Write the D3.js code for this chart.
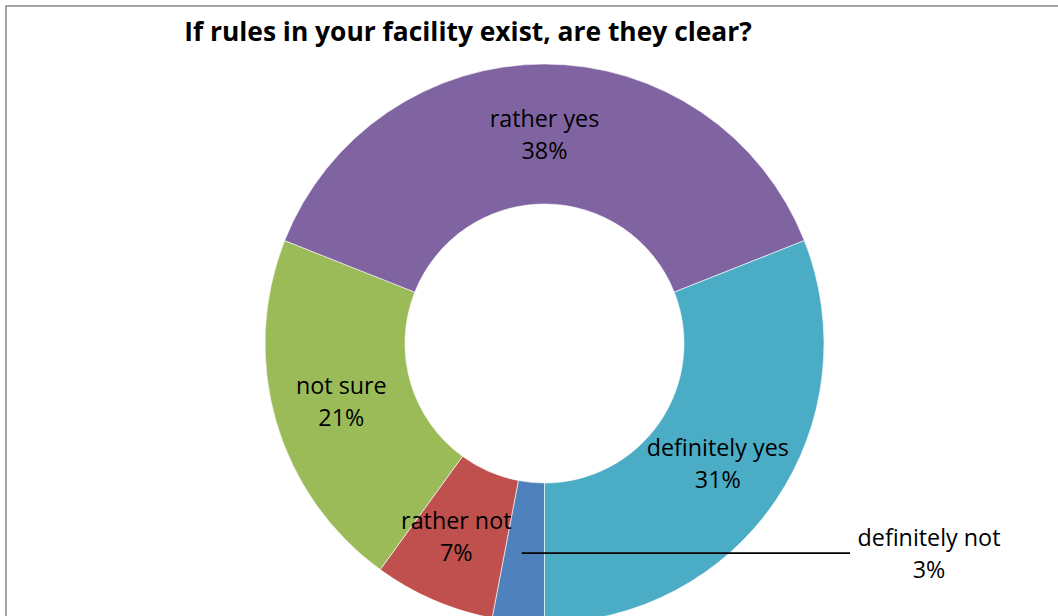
<!DOCTYPE html>
<html>
<head>
<meta charset="utf-8">
<script src="https://cdn.jsdelivr.net/npm/d3@7"></script>
<style>
  html, body { margin: 0; padding: 0; background: #fff; }
  svg { display: block; }
  text { font-family: "Open Sans", "Noto Sans", sans-serif; fill: #000; }
</style>
</head>
<body>
<svg id="chart" width="1058" height="616"></svg>
<script>
// Survey answers, in drawing order (clockwise starting at 6 o'clock)
const categories = ["definitely not", "rather not", "not sure", "rather yes", "definitely yes"];
const shares = [3, 7, 21, 38, 31];
const sliceColors = ["#4F81BD", "#C0504D", "#9BBB59", "#8064A2", "#4BACC6"];
const chartTitle = "If rules in your facility exist, are they clear?";

const svg = d3.select("#chart");
const W = 1058, H = 616;

// size a string so it spans the wanted width
function fitSize(str, weight, targetWidth) {
  const probe = svg.append("text")
    .attr("font-size", 20)
    .attr("font-weight", weight)
    .text(str);
  const w = probe.node().getComputedTextLength();
  probe.remove();
  return 20 * targetWidth / w;
}

// chart frame
svg.append("rect")
  .attr("x", 6).attr("y", 6)
  .attr("width", W + 4).attr("height", H + 4)
  .attr("fill", "#fff")
  .attr("stroke", "#868686")
  .attr("stroke-width", 1.5);

svg.append("text")
  .attr("x", 468).attr("y", 41)
  .attr("text-anchor", "middle")
  .attr("font-size", fitSize(chartTitle, "bold", 568))
  .attr("font-weight", "bold")
  .text(chartTitle);

const cx = 544.5, cy = 343.5, outerR = 279.5, innerR = 139.5;

const data = categories.map((c, i) => ({ name: c, value: shares[i], color: sliceColors[i] }));

const pie = d3.pie()
  .value(d => d.value)
  .sort(null)
  .startAngle(Math.PI)
  .endAngle(3 * Math.PI);

const arc = d3.arc().innerRadius(innerR).outerRadius(outerR);
const arcs = pie(data);

const g = svg.append("g").attr("transform", `translate(${cx},${cy})`);

g.selectAll("path.slice")
  .data(arcs)
  .join("path")
  .attr("class", "slice")
  .attr("d", arc)
  .attr("fill", d => d.data.color)
  .attr("stroke", "#fff")
  .attr("stroke-width", 0.6);

const lineH = 32;
const fontSize = fitSize("definitely not", "normal", 143);

function twoLineLabel(x, y, name, value) {
  const t = g.append("text")
    .attr("text-anchor", "middle")
    .attr("font-size", fontSize);
  t.append("tspan").attr("x", x).attr("y", y - 7).text(name);
  t.append("tspan").attr("x", x).attr("y", y - 7 + lineH).text(value + "%");
}

// labels sitting on the ring
const nudge = { "rather not": [-5, 0], "definitely yes": [0, 2], "not sure": [-2, -1] };
arcs.filter(d => d.data.name !== "definitely not").forEach(d => {
  const [x, y] = arc.centroid(d);
  const [dx, dy] = nudge[d.data.name] || [0, 0];
  twoLineLabel(x + dx, y + dy, d.data.name, d.data.value);
});

// thin slice gets an outside label with a leader line
const small = arcs.find(d => d.data.name === "definitely not");
const [sx, sy] = arc.centroid(small);
g.append("line")
  .attr("x1", sx - 3).attr("y1", sy + 1)
  .attr("x2", 850 - cx).attr("y2", sy + 1)
  .attr("stroke", "#000")
  .attr("stroke-width", 1.8);
twoLineLabel(929 - cx, sy + 1, small.data.name, small.data.value);
</script>
</body>
</html>
